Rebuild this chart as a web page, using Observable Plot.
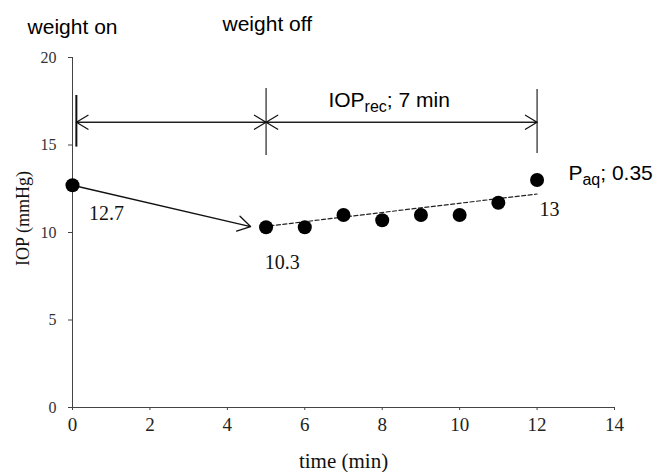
<!DOCTYPE html>
<html>
<head>
<meta charset="utf-8">
<script src="https://cdn.jsdelivr.net/npm/d3@7"></script>
<script src="https://cdn.jsdelivr.net/npm/@observablehq/plot@0.6"></script>
<style>
  body { margin: 0; background: #fff; }
</style>
</head>
<body>
<div id="chart"></div>
<script>
// ---- data ----
const times = [0, 5, 6, 7, 8, 9, 10, 11, 12];
const iop = [12.7, 10.3, 10.3, 11.0, 10.7, 11.0, 11.0, 11.7, 13.0];
const xTicks = [0, 2, 4, 6, 8, 10, 12, 14];
const yTicks = [0, 5, 10, 15, 20];

// recovery fit line (dashed), in data units
const fitX = [5.1, 12];
const fitY = [10.38, 12.2];

// drop arrow (weight on -> weight off)
const dropFrom = [0, 12.7];
const dropTo = [4.6, 10.34];

// phase markers
const markerX = [0.1, 5, 12];
const markerLo = [14.88, 14.4, 14.51];
const markerHi = [17.83, 18.23, 18.17];
const spanY = 16.3;
const spans = [[0.1, 5], [5, 12]];

// value labels
const valueLabels = ["12.7", "10.3", "13"];
const valueX = [0.88, 5.42, 12.32];
const valueY = [11.09, 8.26, 11.29];

// headings
const headTexts = ["weight on", "weight off"];
const headX = [-1.16, 3.875];
const headY = [21.7, 21.92];

// subscripted labels: [main, sub, rest]
const subLabels = [["IOP", "rec", "; 7 min"], ["P", "aq", "; 0.35"]];
const subX = [6.61, 12.81];
const subY = [17.53, 13.41];

const points = times.map((t, i) => ({t, v: iop[i]}));
const fit = fitX.map((x, i) => ({x, y: fitY[i]}));
const markers = markerX.map((x, i) => ({x, lo: markerLo[i], hi: markerHi[i], w: i === 0 ? 2 : 1.1}));
const arrowSegs = spans.flatMap(([a, b]) => [{x1: a, x2: b}, {x1: b, x2: a}]);
const values = valueLabels.map((s, i) => ({s, x: valueX[i], y: valueY[i]}));
const heads = headTexts.map((s, i) => ({s, x: headX[i], y: headY[i]}));
const subs = subLabels.map((p, i) => ({s: p.join(""), x: subX[i], y: subY[i]}));

const sans = "'Liberation Sans', Arial, sans-serif";
const serif = "'Liberation Serif', 'Times New Roman', serif";

const svg = Plot.plot({
  width: 656,
  height: 472,
  marginLeft: 72,
  marginRight: 42,
  marginTop: 57,
  marginBottom: 65,
  style: {background: "white", fontFamily: serif, overflow: "visible"},
  x: {domain: [0, 14]},
  y: {domain: [0, 20]},
  marks: [
    Plot.ruleX([0], {y1: 0, y2: 20, stroke: "#444", strokeWidth: 1}),
    Plot.ruleY([0], {x1: 0, x2: 14, stroke: "#444", strokeWidth: 1}),
    Plot.axisX({ticks: xTicks, tickSize: 3, tickPadding: 7, fontSize: 19, fontFamily: serif, label: null, stroke: "#444", color: "#222"}),
    Plot.axisY({ticks: yTicks, tickSize: 4, tickPadding: 12, fontSize: 16, fontFamily: serif, label: null, stroke: "#444", color: "#333"}),
    Plot.text(["time (min)"], {x: 7, y: -3.07, text: d => d, fontSize: 21, fontFamily: serif, fill: "#111"}),
    Plot.text(["IOP (mmHg)"], {x: -1.27, y: 10.8, text: d => d, rotate: -90, fontSize: 18, fontFamily: serif, fill: "#111"}),
    // phase markers
    Plot.ruleX(markers, {x: "x", y1: "lo", y2: "hi", stroke: "#111", strokeWidth: "w"}),
    Plot.arrow(arrowSegs, {x1: "x1", x2: "x2", y1: spanY, y2: spanY, stroke: "#111", strokeWidth: 1.2, headLength: 17, headAngle: 62}),
    // drop arrow
    Plot.arrow([0], {x1: dropFrom[0], y1: dropFrom[1], x2: dropTo[0], y2: dropTo[1], stroke: "#111", strokeWidth: 1.3, headLength: 17, headAngle: 62}),
    // dashed fit
    Plot.line(fit, {x: "x", y: "y", stroke: "#222", strokeWidth: 1.2, strokeDasharray: "4,2.5"}),
    Plot.dot(points, {x: "t", y: "v", r: 7, fill: "#000"}),
    Plot.text(values, {x: "x", y: "y", text: "s", fontSize: 20, fontFamily: serif, fill: "#111"}),
    Plot.text(heads, {x: "x", y: "y", text: "s", textAnchor: "start", fontSize: 21, fontFamily: sans, fill: "#000"}),
    Plot.text(subs, {x: "x", y: "y", text: "s", textAnchor: "start", fontSize: 21, fontFamily: sans, fill: "#000", className: "subtext"})
  ]
});

d3.select(svg).selectAll(".subtext text").each(function () {
  const t = d3.select(this);
  const s = t.text();
  const parts = subLabels.find(p => p.join("") === s);
  if (!parts) return;
  t.text(null);
  t.append("tspan").text(parts[0]);
  t.append("tspan").attr("dy", 5).attr("font-size", 16).text(parts[1]);
  t.append("tspan").attr("dy", -5).text(parts[2]);
});

document.getElementById("chart").appendChild(svg);
</script>
</body>
</html>
